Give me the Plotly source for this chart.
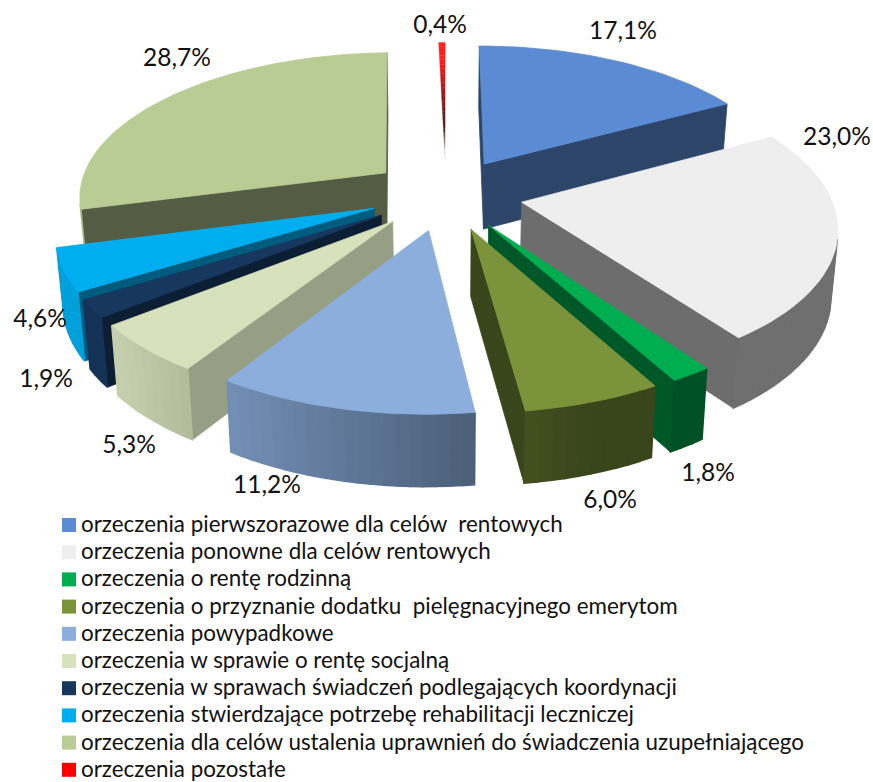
import math
import plotly.graph_objects as go

CATEGORIES = [
    "orzeczenia pierwszorazowe dla celów  rentowych",
    "orzeczenia ponowne dla celów rentowych",
    "orzeczenia o rentę rodzinną",
    "orzeczenia o przyznanie dodatku  pielęgnacyjnego emerytom",
    "orzeczenia powypadkowe",
    "orzeczenia w sprawie o rentę socjalną",
    "orzeczenia w sprawach świadczeń podlegających koordynacji",
    "orzeczenia stwierdzające potrzebę rehabilitacji leczniczej",
    "orzeczenia dla celów ustalenia uprawnień do świadczenia uzupełniającego",
    "orzeczenia pozostałe",
]
VALUES = [17.1, 23.0, 1.8, 6.0, 11.2, 5.3, 1.9, 4.6, 28.7, 0.4]
LABELS = ["17,1%", "23,0%", "1,8%", "6,0%", "11,2%", "5,3%", "1,9%", "4,6%", "28,7%", "0,4%"]

# styling (not data)
COLORS = ["#5B8BD3", "#EEEEEE", "#00AE50", "#7B943B", "#8BAEDD", "#D7E2BD", "#17375E", "#00AEEF", "#B8CC94", "#FF0000"]
WALL_F = [0.50, 0.46, 0.50, 0.47, 0.55, 0.70, 0.55, 0.53, 0.46, 0.45]
LABEL_XY = [(623, 33), (837, 139), (708, 475), (610, 502), (267, 487),
            (129, 447), (46, 381), (40, 321), (177, 60), (440, 27)]

CX, CY, R, H, K, EXPLODE, DEPTH, SHRINK = 446, 194, 308, 144, 0.15, 0.25, 66, 0.018
LEG_X, LEG_Y, LEG_STEP = 69, 525, 27.2


def project(u, v, z=0.0):
    w = 1 / (1 + K * v)
    x = CX + R * u * w
    y = CY - H * v * w + z * DEPTH * w ** 0.45
    return CX + (x - CX) * (1 - SHRINK * z), y


def shade(hex_color, f):
    r, g, b = int(hex_color[1:3], 16), int(hex_color[3:5], 16), int(hex_color[5:7], 16)
    return f"rgb({int(r*f)},{int(g*f)},{int(b*f)})"


def area(pts):
    return sum(pts[i][0] * pts[(i + 1) % len(pts)][1] - pts[(i + 1) % len(pts)][0] * pts[i][1]
               for i in range(len(pts))) / 2


fig = go.Figure()


def poly(pts, color, line=0.8):
    xs = [p[0] for p in pts] + [pts[0][0]]
    ys = [p[1] for p in pts] + [pts[0][1]]
    fig.add_trace(go.Scatter(x=xs, y=ys, mode="lines", fill="toself", fillcolor=color,
                             line=dict(color=color, width=line), hoverinfo="skip", showlegend=False))


total = sum(VALUES)
slices = []
cum = 0.0
for i, val in enumerate(VALUES):
    a0 = cum / total * 2 * math.pi
    cum += val
    a1 = cum / total * 2 * math.pi
    mid = (a0 + a1) / 2
    ox, oy = EXPLODE * math.sin(mid), EXPLODE * math.cos(mid)
    slices.append((oy, i, a0, a1, ox, oy))

# painter's order: far slices first
for _, i, a0, a1, ox, oy in sorted(slices, key=lambda s: -s[0]):
    col = COLORS[i]
    n = max(2, int((a1 - a0) / math.radians(2)))
    angs = [a0 + (a1 - a0) * j / n for j in range(n + 1)]
    rim = [(ox + math.sin(a), oy + math.cos(a)) for a in angs]
    apex = (ox, oy)

    def quad(p, q):
        return [project(*p, 0), project(*q, 0), project(*q, 1), project(*p, 1)]

    # radial walls with back-face culling
    wall_a = quad(apex, rim[0])
    wall_b = quad(rim[-1], apex)
    for wall in (wall_a, wall_b):
        if area(wall) < 0 and i != 9:
            poly(wall, shade(col, WALL_F[i]))
    # outer wall
    for j in range(n):
        q = quad(rim[j], rim[j + 1])
        if area(q) < 0:
            am = (angs[j] + angs[j + 1]) / 2
            f = max(0.47, min(0.92, 0.6 - 0.42 * math.sin(am)))
            poly(q, shade(col, f), 1.5)
    # top face
    if i == 9:
        steps = 24
        for s in range(steps):
            r0, r1 = s / steps, (s + 1) / steps
            pts = [project(ox + r0 * math.sin(a0), oy + r0 * math.cos(a0)),
                   project(ox + r1 * math.sin(a0), oy + r1 * math.cos(a0)),
                   project(ox + r1 * math.sin(a1), oy + r1 * math.cos(a1)),
                   project(ox + r0 * math.sin(a1), oy + r0 * math.cos(a1))]
            t = (r0 + r1) / 2
            if t < 0.25:
                c = f"rgb({int(230 - 640 * t)},{int(230 - 800 * t)},{int(230 - 800 * t)})"
            else:
                c = f"rgb({int(70 + 185 * (t - 0.25) / 0.6) if t < 0.85 else 255},30,30)"
            poly(pts, c, 0.3)
    else:
        poly([project(*apex)] + [project(*p) for p in rim], col)

# data labels
fig.add_trace(go.Scatter(x=[p[0] for p in LABEL_XY], y=[p[1] for p in LABEL_XY], text=LABELS,
                         mode="text", textposition="middle center",
                         textfont=dict(family="Lato", size=24.5, color="#111111"),
                         hoverinfo="skip", showlegend=False))

# legend as squares + real text
leg_y = [LEG_Y + LEG_STEP * i for i in range(len(CATEGORIES))]
fig.add_trace(go.Scatter(x=[LEG_X] * len(CATEGORIES), y=leg_y, mode="markers",
                         marker=dict(symbol="square", size=14, color=COLORS),
                         hoverinfo="skip", showlegend=False))
fig.add_trace(go.Scatter(x=[LEG_X + 12] * len(CATEGORIES), y=[y + 1.5 for y in leg_y], mode="text",
                         text=CATEGORIES, textposition="middle right",
                         textfont=dict(family="Lato", size=22.4, color="#111111"),
                         hoverinfo="skip", showlegend=False))

fig.update_layout(
    width=873, height=782, margin=dict(l=0, r=0, t=0, b=0),
    paper_bgcolor="white", plot_bgcolor="white", showlegend=False,
    xaxis=dict(range=[0, 873], visible=False, fixedrange=True),
    yaxis=dict(range=[782, 0], visible=False, fixedrange=True),
)
fig.write_html("out.html", config={"displayModeBar": False},
               post_script="document.body.style.margin='0';document.body.style.overflow='hidden';")
